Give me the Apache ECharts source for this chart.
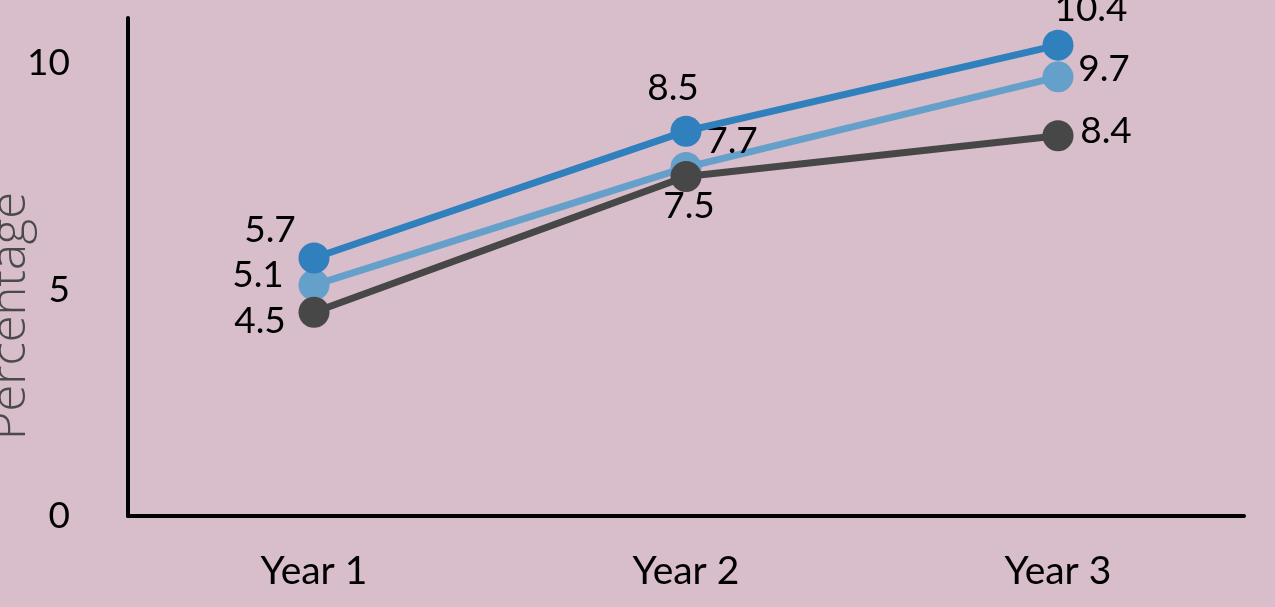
<!DOCTYPE html>
<html><head><meta charset="utf-8">
<script src="https://cdn.jsdelivr.net/npm/echarts@6/dist/echarts.min.js"></script>
<style>html,body{margin:0;padding:0;background:#d8bdcb}#c{width:1275px;height:607px}</style>
</head><body><div id="c"></div>
<script>
const categories = ['Year 1', 'Year 2', 'Year 3'];
const seriesBlue = [5.7, 8.5, 10.4];
const seriesLight = [5.1, 7.7, 9.7];
const seriesDark = [4.5, 7.5, 8.4];
const yTicks = [0, 5, 10];
const yName = 'Percentage';

const FONT = 'Lato';
const labelOffsets = {
  blue: [[-44, -28], [-13, -43], [33, -36]],
  light: [[-56, -10], [46, -26], [46, -8]],
  dark: [[-54, 9], [3, 30], [48, -5]]
};
function mk(name, vals, color, offs, z) {
  return {
    name, type: 'line', data: vals.map((v, i) => ({
      value: v,
      label: { offset: offs[i] }
    })),
    z,
    symbol: 'circle', symbolSize: 31,
    lineStyle: { color, width: 7 },
    itemStyle: { color },
    label: { show: true, position: 'inside', fontFamily: FONT, fontSize: 37, color: '#000',
      formatter: p => p.value.toFixed(1) },
    emphasis: { disabled: true }, animation: false
  };
}
const chart = echarts.init(document.getElementById('c'));
chart.setOption({
  backgroundColor: '#d8bdcb',
  grid: { left: 128, right: 31, top: 18, bottom: 91, containLabel: false, outerBoundsMode: 'none' },
  graphic: [{
    type: 'text', x: 11, y: 316, rotation: Math.PI / 2, silent: true,
    style: { text: yName, fontFamily: 'Open Sans', fontSize: 49, fontWeight: 300, fill: '#4a4a4a',
      align: 'center', verticalAlign: 'middle' }
  }],
  xAxis: {
    type: 'category', data: categories, boundaryGap: true,
    axisLine: { lineStyle: { color: '#000', width: 4 } },
    axisTick: { show: false },
    axisLabel: { fontFamily: FONT, fontSize: 39, color: '#000', margin: 36 }
  },
  yAxis: {
    type: 'value', min: 0, max: 11, interval: 5,
    axisLine: { show: true, lineStyle: { color: '#000', width: 4 } },
    axisTick: { show: false },
    splitLine: { show: false },
    axisLabel: { fontFamily: FONT, fontSize: 37, color: '#000', margin: 58, showMaxLabel: false,
      formatter: v => yTicks.includes(v) ? String(v) : '' }
  },
  series: [
    mk('Series B', seriesLight, '#65a0cb', labelOffsets.light, 2),
    mk('Series A', seriesBlue, '#2f80bd', labelOffsets.blue, 3),
    mk('Series C', seriesDark, '#474747', labelOffsets.dark, 4)
  ]
});
</script></body></html>
